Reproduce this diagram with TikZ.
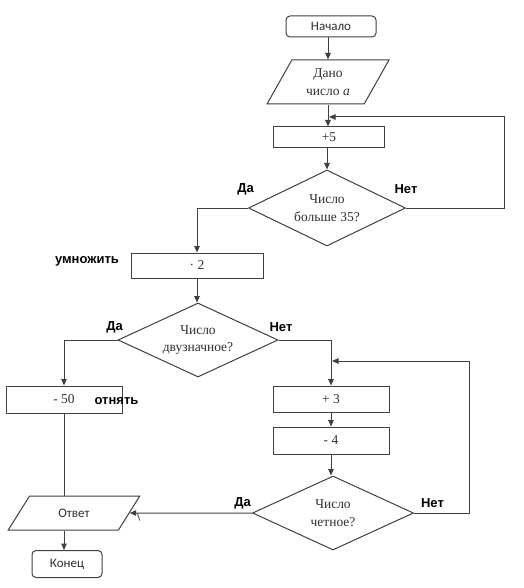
\documentclass[tikz,border=0pt]{standalone}
\usepackage{fontspec}
\setmainfont{Liberation Serif}
\newfontfamily\calib{Carlito}
\newfontfamily\arialb{Liberation Sans}
\usetikzlibrary{shapes.geometric,arrows.meta}
\definecolor{linec}{HTML}{404040}
\definecolor{txtc}{HTML}{303030}
\tikzset{
  conn/.style={draw=linec, line width=1pt},
  arr/.style={conn, -{Triangle[length=6.5pt,width=5.5pt]}},
  box/.style={rectangle, draw=linec, line width=1pt, text=txtc, inner sep=0pt,
    align=center, font=\fontsize{13.5}{17}\selectfont},
  term/.style={box, rounded corners=4pt, font=\calib\fontsize{13}{14}\selectfont},
  dec/.style={diamond, draw=linec, line width=1pt, text=txtc, inner sep=0pt,
    aspect=2.1, align=center, font=\fontsize{13.5}{17.5}\selectfont},
  io/.style={trapezium, trapezium stretches=true, draw=linec, line width=1pt,
    text=txtc, inner sep=0pt, align=center},
  lab/.style={font=\arialb\bfseries\fontsize{13}{14}\selectfont, inner sep=0pt, text=black},
}
\begin{document}
\begin{tikzpicture}[x=1pt,y=-1pt]
\useasboundingbox[fill=white] (0,0) rectangle (523,588);
% top column
\node[term, minimum width=90pt, minimum height=21pt] (nachalo) at (331,26.5) {Начало};
\node[io, trapezium left angle=61, trapezium right angle=119,
  minimum width=122pt, minimum height=44pt, font=\fontsize{13.5}{18}\selectfont] (dano) at (328,82) {Дано\\число \textit{a}};
\node[box, minimum width=111pt, minimum height=21pt] (plus5) at (329,137.5) {+5};
\node[dec, minimum width=157pt, minimum height=76pt] (d1) at (327,208) {Число\\больше 35?};
\coordinate (lp1) at (329,117);
% multiply
\node[box, minimum width=132pt, minimum height=25pt] (mul2) at (197,265.5) {· 2};
\node[dec, minimum width=160pt, minimum height=74pt] (d2) at (198,340) {Число\\двузначное?};
% left branch
\node[box, minimum width=116pt, minimum height=27pt] (m50) at (64,399.5) {- 50};
% right column
\node[box, minimum width=116pt, minimum height=26pt] (p3) at (331,399) {+ 3};
\node[box, minimum width=116pt, minimum height=27pt] (m4) at (331,440.5) {- 4};
\node[dec, minimum width=161pt, minimum height=74pt] (d3) at (333,513) {Число\\четное?};
\coordinate (lp2) at (332,361);
% end
\node[io, trapezium left angle=48.6, trapezium right angle=131.4,
  minimum width=132pt, minimum height=34pt, font=\calib\fontsize{13}{14}\selectfont] (otvet) at (74,513) {Ответ};
\node[term, minimum width=70pt, minimum height=27pt] (konec) at (67,564) {Конец};
% labels
\node[lab] (l1) at (245.5,189) {Да};
\node[lab] (l2) at (406,189) {Нет};
\node[lab] (l3) at (87,261) {умножить};
\node[lab] (l4) at (114.5,327) {Да};
\node[lab] (l5) at (281,327) {Нет};
\node[lab] (l6) at (116.5,401) {отнять};
\node[lab] (l7) at (242.5,503) {Да};
\node[lab] (l8) at (432.5,503) {Нет};
% connectors
\draw[arr] (nachalo.south -| dano.north) -- (dano.north);
\draw[arr] (dano.south) -- (dano.south |- plus5.north);
\draw[arr] (plus5.south -| d1.north) -- (d1.north);
\draw[arr] (d1.east) -- ++(98,0) |- (lp1);
\draw[arr] (d1.west) -| (mul2.north);
\draw[arr] (mul2.south) -- (mul2.south |- d2.north);
\draw[arr] (d2.west) -| (m50.north);
\draw[arr] (d2.east) -| (p3.north);
\draw[arr] (p3.south) -- (m4.north);
\draw[arr] (m4.south) -- (m4.south |- d3.north);
\draw[arr] (d3.east) -- ++(55.5,0) |- (lp2);
\draw[arr] (d3.west) -- (otvet.east);
\draw[conn] (m50.south) -- (m50.south |- otvet.north);
\draw[arr] (otvet.south -| m50.south) -- (konec.north -| m50.south);
\draw[conn, line width=0.8pt] (137.5,513.5) -- (139.8,520.5);
\end{tikzpicture}
\end{document}
